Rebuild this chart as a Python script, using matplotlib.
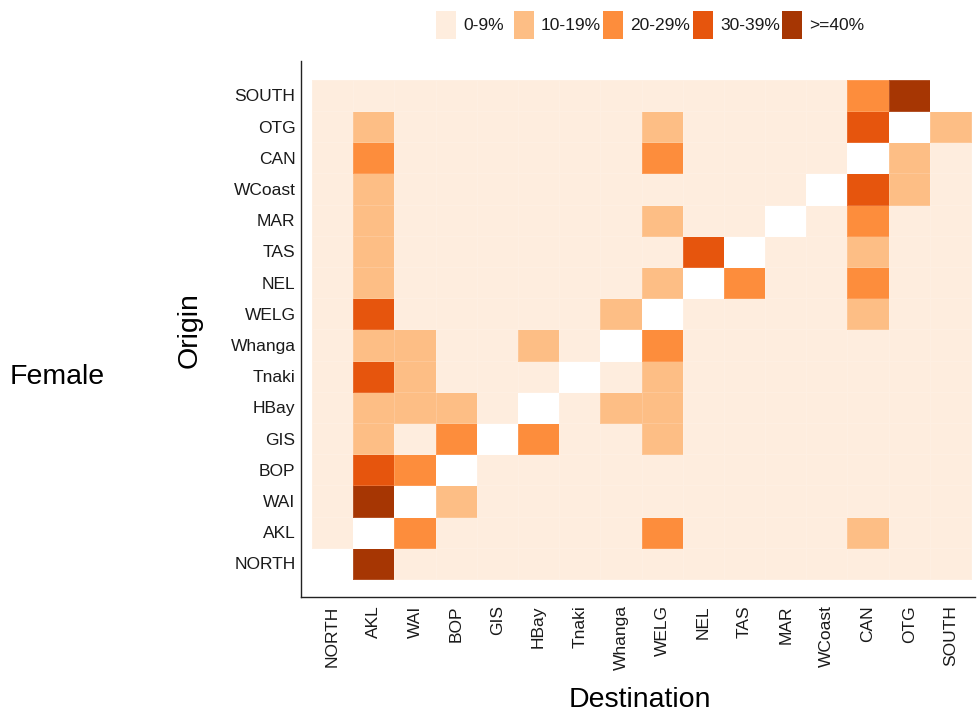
import numpy as np
import matplotlib
matplotlib.use("Agg")
import matplotlib.pyplot as plt
from matplotlib.colors import ListedColormap, BoundaryNorm
from matplotlib.patches import Rectangle
from matplotlib.transforms import ScaledTranslation

plt.rcParams['font.family'] = ['Liberation Sans', 'DejaVu Sans']

# Regions, listed north to south (origin on y, destination on x)
regions = ["NORTH", "AKL", "WAI", "BOP", "GIS", "HBay", "Tnaki", "Whanga",
           "WELG", "NEL", "TAS", "MAR", "WCoast", "CAN", "OTG", "SOUTH"]

# Share band labels and colours
band_labels = ["0-9%", "10-19%", "20-29%", "30-39%", ">=40%"]
band_colors = ["#feedde", "#fdbe85", "#fd8d3c", "#e6550d", "#a63603"]

N = None  # same origin and destination: no value
# Band index (0..4) for each origin row, columns follow `regions`
origin_NORTH  = [N, 4, 0, 0, 0, 0, 0, 0, 0, 0, 0, 0, 0, 0, 0, 0]
origin_AKL    = [0, N, 2, 0, 0, 0, 0, 0, 2, 0, 0, 0, 0, 1, 0, 0]
origin_WAI    = [0, 4, N, 1, 0, 0, 0, 0, 0, 0, 0, 0, 0, 0, 0, 0]
origin_BOP    = [0, 3, 2, N, 0, 0, 0, 0, 0, 0, 0, 0, 0, 0, 0, 0]
origin_GIS    = [0, 1, 0, 2, N, 2, 0, 0, 1, 0, 0, 0, 0, 0, 0, 0]
origin_HBay   = [0, 1, 1, 1, 0, N, 0, 1, 1, 0, 0, 0, 0, 0, 0, 0]
origin_Tnaki  = [0, 3, 1, 0, 0, 0, N, 0, 1, 0, 0, 0, 0, 0, 0, 0]
origin_Whanga = [0, 1, 1, 0, 0, 1, 0, N, 2, 0, 0, 0, 0, 0, 0, 0]
origin_WELG   = [0, 3, 0, 0, 0, 0, 0, 1, N, 0, 0, 0, 0, 1, 0, 0]
origin_NEL    = [0, 1, 0, 0, 0, 0, 0, 0, 1, N, 2, 0, 0, 2, 0, 0]
origin_TAS    = [0, 1, 0, 0, 0, 0, 0, 0, 0, 3, N, 0, 0, 1, 0, 0]
origin_MAR    = [0, 1, 0, 0, 0, 0, 0, 0, 1, 0, 0, N, 0, 2, 0, 0]
origin_WCoast = [0, 1, 0, 0, 0, 0, 0, 0, 0, 0, 0, 0, N, 3, 1, 0]
origin_CAN    = [0, 2, 0, 0, 0, 0, 0, 0, 2, 0, 0, 0, 0, N, 1, 0]
origin_OTG    = [0, 1, 0, 0, 0, 0, 0, 0, 1, 0, 0, 0, 0, 3, N, 1]
origin_SOUTH  = [0, 0, 0, 0, 0, 0, 0, 0, 0, 0, 0, 0, 0, 2, 4, N]

rows = [origin_NORTH, origin_AKL, origin_WAI, origin_BOP, origin_GIS,
        origin_HBay, origin_Tnaki, origin_Whanga, origin_WELG, origin_NEL,
        origin_TAS, origin_MAR, origin_WCoast, origin_CAN, origin_OTG,
        origin_SOUTH]

grid = np.array([[np.nan if v is None else v for v in r] for r in rows], dtype=float)

W, H, DPI = 977, 720, 100
fig = plt.figure(figsize=(W / DPI, H / DPI), dpi=DPI)

# Axes box in pixel terms
ax_l, ax_r, ax_t, ax_b = 301, 975, 61, 597
ax = fig.add_axes([ax_l / W, 1 - ax_b / H, (ax_r - ax_l) / W, (ax_b - ax_t) / H])

cmap = ListedColormap(band_colors)
cmap.set_bad("white")
norm = BoundaryNorm(np.arange(-0.5, 5.5, 1), cmap.N)
n = len(regions)
edges = np.arange(n + 1) - 0.5
ax.pcolormesh(edges, edges, np.ma.masked_invalid(grid), cmap=cmap, norm=norm,
              edgecolors=(1, 1, 1, 0.15), linewidth=0.5)

ax.set_xlim(-0.767, 15.596)
ax.set_ylim(-1.077, 16.10)

ax.set_xticks(range(n))
ax.set_yticks(range(n))
ax.set_xticklabels(regions, rotation=90, fontsize=12.5, color="#1a1a1a")
ax.set_yticklabels(regions, fontsize=12.5, color="#1a1a1a")
shift = ScaledTranslation(6 / 100, 0, fig.dpi_scale_trans)
for lbl in ax.get_xticklabels():
    lbl.set_transform(lbl.get_transform() + shift)
ax.tick_params(axis="both", length=0)
ax.tick_params(axis="x", pad=6)
ax.tick_params(axis="y", pad=4)

for side in ("top", "right"):
    ax.spines[side].set_visible(False)
for side in ("left", "bottom"):
    ax.spines[side].set_color("#222222")
    ax.spines[side].set_linewidth(1.0)

fig.text(640 / W, 1 - 700 / H, "Destination", fontsize=20.5, ha="center", va="center")
fig.text(190 / W, 1 - 330 / H, "Origin", fontsize=20.5, rotation=90, ha="center", va="center")
fig.text(10 / W, 1 - 377 / H, "Female", fontsize=20.5, ha="left", va="center")

# Legend across the top
key_x = [436, 514, 603, 693, 782]
key_w, key_h, key_top = 20, 28, 11
for x0, col, lab in zip(key_x, band_colors, band_labels):
    fig.add_artist(Rectangle((x0 / W, 1 - (key_top + key_h) / H), key_w / W, key_h / H,
                             transform=fig.transFigure, facecolor=col, edgecolor="none"))
    fig.text((x0 + key_w + 7) / W, 1 - (key_top + key_h / 2) / H, lab,
             fontsize=12.5, ha="left", va="center", color="#1a1a1a")

fig.savefig("out.png", dpi=DPI)
